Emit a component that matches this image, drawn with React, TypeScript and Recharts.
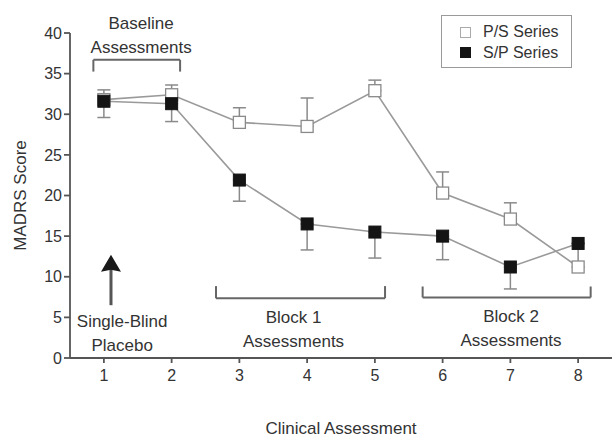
import React from 'react';
import {
  ComposedChart,
  Line,
  XAxis,
  YAxis,
  ErrorBar,
  Legend,
  ReferenceLine,
  ReferenceDot,
} from 'recharts';

// Clinical assessment index and MADRS means per series
const assessments = [1, 2, 3, 4, 5, 6, 7, 8];
const psScores = [31.8, 32.4, 29.0, 28.5, 32.9, 20.3, 17.1, 11.2];
const psErrorUp = [1.2, 1.2, 1.8, 3.5, 1.3, 2.6, 2.0, 2.9];
const spScores = [31.6, 31.3, 21.9, 16.5, 15.5, 15.0, 11.2, 14.1];
const spErrorDown = [2.0, 2.2, 2.6, 3.2, 3.2, 2.9, 2.7, 0];
const yTicks = [0, 5, 10, 15, 20, 25, 30, 35, 40];

const chartData = assessments.map((x, i) => ({
  x,
  ps: psScores[i],
  sp: spScores[i],
  psErr: [0, psErrorUp[i]],
  spErr: [spErrorDown[i], 0],
}));

// phase annotations, in data units
const notes = [
  { x: 1.55, y: 40.45, lines: ['Baseline', 'Assessments'] },
  { x: 1.27, y: 3.8, lines: ['Single-Blind', 'Placebo'] },
  { x: 3.8, y: 4.3, lines: ['Block 1', 'Assessments'] },
  { x: 7.01, y: 4.4, lines: ['Block 2', 'Assessments'] },
];

const brackets = [
  { x1: 0.845, x2: 2.125, y: 36.7, end: 35.25 },
  { x1: 2.655, x2: 5.15, y: 7.35, end: 8.85 },
  { x1: 5.705, x2: 8.185, y: 7.45, end: 8.8 },
];

const TEXT = '#333';
const AXIS = '#555';
const LINE = '#9a9a9a';
const ERR = '#8a8a8a';

const openSquare = (props: any) => {
  const { cx, cy, index } = props;
  return (
    <rect key={`ps-${index}`} x={cx - 6} y={cy - 6} width={12} height={12}
      fill="#fff" stroke="#8a8a8a" strokeWidth={1.3} />
  );
};

const filledSquare = (props: any) => {
  const { cx, cy, index } = props;
  return (
    <rect key={`sp-${index}`} x={cx - 6} y={cy - 6} width={12} height={12}
      fill="#141414" stroke="#141414" strokeWidth={1} />
  );
};

const LegendBox = () => (
  <div style={{
    width: 131, height: 53, border: '1.5px solid #9a9a9a', background: '#fff',
    boxSizing: 'border-box', paddingTop: 6, fontSize: 16, color: TEXT,
  }}>
    {[
      { label: 'P/S Series', fill: '#fff', stroke: '#aaa' },
      { label: 'S/P Series', fill: '#141414', stroke: '#141414' },
    ].map((item) => (
      <div key={item.label} style={{ display: 'flex', alignItems: 'center', height: 20.5 }}>
        <span style={{
          display: 'inline-block', width: 9, height: 9, marginLeft: 18, marginRight: 12,
          background: item.fill, border: `1px solid ${item.stroke}`,
        }} />
        <span>{item.label}</span>
      </div>
    ))}
  </div>
);

const renderNote = (n: typeof notes[number], i: number) => (
  <ReferenceDot
    key={`note-${i}`}
    x={n.x}
    y={n.y}
    r={0}
    ifOverflow="visible"
    shape={(p: any) => (
      <text x={p.cx} y={p.cy} textAnchor="middle" fontSize={17} fill={TEXT}>
        {n.lines.map((line, j) => (
          <tspan key={line} x={p.cx} dy={j === 0 ? 0 : 23.5}>{line}</tspan>
        ))}
      </text>
    )}
  />
);

const renderBracket = (b: typeof brackets[number], i: number) => [
  <ReferenceLine key={`bh-${i}`} segment={[{ x: b.x1, y: b.y }, { x: b.x2, y: b.y }]}
    stroke="#666" strokeWidth={2} ifOverflow="visible" />,
  <ReferenceLine key={`bl-${i}`} segment={[{ x: b.x1, y: b.y }, { x: b.x1, y: b.end }]}
    stroke="#666" strokeWidth={2} ifOverflow="visible" />,
  <ReferenceLine key={`br-${i}`} segment={[{ x: b.x2, y: b.y }, { x: b.x2, y: b.end }]}
    stroke="#666" strokeWidth={2} ifOverflow="visible" />,
];

export default function App() {
  return (
    <div style={{
      position: 'absolute', left: 0, top: 0, width: 612, height: 438, background: '#fff',
      fontFamily: "'Liberation Sans', Arial, sans-serif",
    }}>
      <ComposedChart width={612} height={438} data={chartData}
        margin={{ top: 33, right: 0, bottom: 0, left: 0 }}>
        <XAxis
          dataKey="x"
          type="number"
          domain={[0.5, 8.5]}
          ticks={assessments}
          height={80}
          tickSize={5}
          tickMargin={7}
          tick={{ fill: TEXT, fontSize: 16 }}
          axisLine={{ stroke: AXIS, strokeWidth: 1.8 }}
          tickLine={{ stroke: AXIS, strokeWidth: 1.8 }}
          label={{ value: 'Clinical Assessment', position: 'insideBottom', offset: 4, fill: '#333', fontSize: 17 }}
        />
        <YAxis
          type="number"
          domain={[0, 40]}
          ticks={yTicks}
          width={70}
          tickSize={6}
          tickMargin={2}
          tick={{ fill: TEXT, fontSize: 16 }}
          axisLine={{ stroke: AXIS, strokeWidth: 1.8 }}
          tickLine={{ stroke: AXIS, strokeWidth: 1.8 }}
          label={{
            value: 'MADRS Score', angle: -90, position: 'insideLeft', offset: 20,
            fill: '#333', fontSize: 17, style: { textAnchor: 'middle' },
          }}
        />
        <Legend
          layout="vertical"
          align="center"
          verticalAlign="middle"
          content={<LegendBox />}
          wrapperStyle={{ left: 441, top: 15, width: 131, height: 53 }}
        />

        {brackets.map(renderBracket)}

        {/* single-blind placebo arrow */}
        <ReferenceLine segment={[{ x: 1.105, y: 6.5 }, { x: 1.105, y: 11 }]}
          stroke="#555" strokeWidth={3} ifOverflow="visible" />
        <ReferenceDot x={1.105} y={12.7} r={0} ifOverflow="visible"
          shape={(p: any) => (
            <polygon
              points={`${p.cx},${p.cy} ${p.cx - 10},${p.cy + 17} ${p.cx},${p.cy + 15} ${p.cx + 10},${p.cy + 17}`}
              fill="#1a1a1a" />
          )} />

        {notes.map(renderNote)}

        {/* error bars sit underneath the series so the squares cover their base */}
        <Line dataKey="ps" stroke="none" dot={false} activeDot={false} legendType="none"
          isAnimationActive={false}>
          <ErrorBar dataKey="psErr" direction="y" width={6.5} stroke={ERR} strokeWidth={1.5} />
        </Line>
        <Line dataKey="sp" stroke="none" dot={false} activeDot={false} legendType="none"
          isAnimationActive={false}>
          <ErrorBar dataKey="spErr" direction="y" width={6.5} stroke={ERR} strokeWidth={1.5} />
        </Line>

        <Line dataKey="ps" name="P/S Series" stroke={LINE} strokeWidth={1.6}
          dot={openSquare} activeDot={false} isAnimationActive={false} />
        <Line dataKey="sp" name="S/P Series" stroke={LINE} strokeWidth={1.6}
          dot={filledSquare} activeDot={false} isAnimationActive={false} />
      </ComposedChart>
    </div>
  );
}
